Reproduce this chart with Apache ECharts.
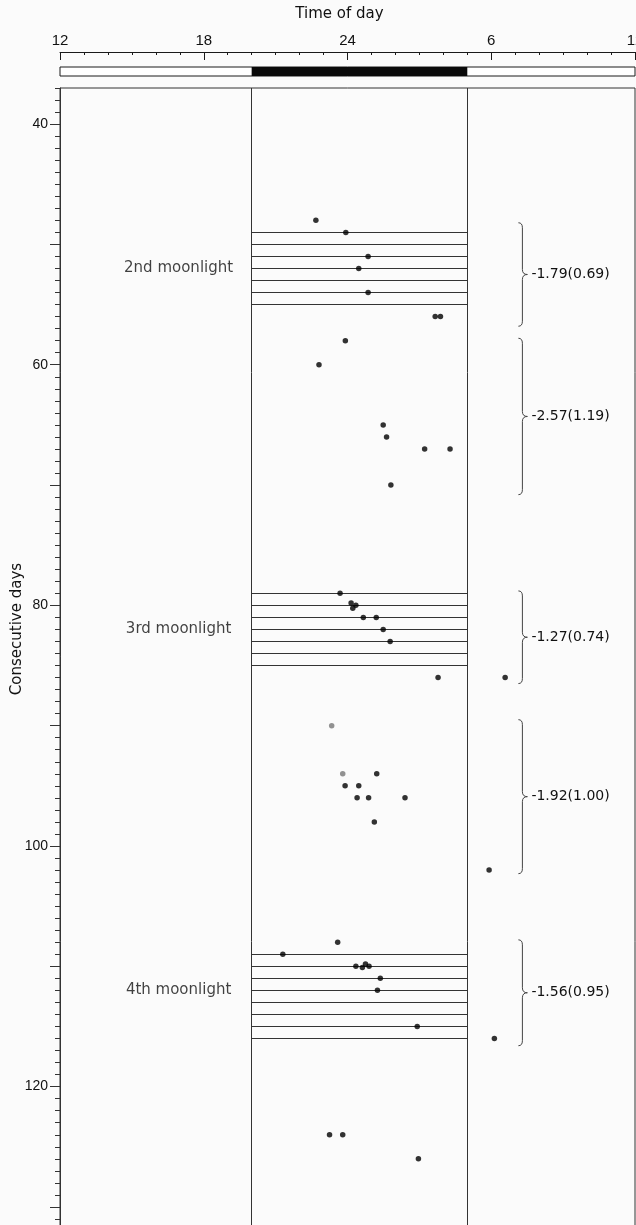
<!DOCTYPE html>
<html>
<head>
<meta charset="utf-8">
<script src="https://cdn.jsdelivr.net/npm/echarts@6.0.0/dist/echarts.min.js"></script>
<style>
  html, body { margin: 0; padding: 0; background: #fbfbfb; }
  #chart { width: 636px; height: 1225px; }
</style>
</head>
<body>
<div id="chart"></div>
<script>
// time of day in hours, 24+ means after midnight
const nightStart = 20
const nightEnd = 29

// onset of activity: hour and day
const onsetHour = [
  22.68, 23.93, 24.86, 24.47, 24.86, 27.66, 27.88,
  23.91, 22.81, 25.49, 25.63, 27.22, 28.28, 25.81,
  23.69, 24.15, 24.35, 24.22, 24.66, 25.2, 25.49, 25.78, 27.78, 30.58,
  25.22, 23.9, 24.47, 24.4, 24.88, 26.4, 25.12, 29.91,
  23.59, 21.3, 24.35, 24.62, 24.75, 24.9, 25.37, 25.25, 26.91, 30.13,
  23.25, 23.8, 26.96
]
const onsetDay = [
  48, 49, 51, 52, 54, 56, 56,
  58, 60, 65, 66, 67, 67, 70,
  79, 79.8, 80, 80.25, 81, 81, 82, 83, 86, 86,
  94, 95, 95, 96, 96, 96, 98, 102,
  108, 109, 110, 110.1, 109.8, 110, 111, 112, 115, 116,
  124, 124, 126
]
// fainter points
const faintHour = [23.34, 23.8]
const faintDay = [90, 94]

// moonlight periods (first and last night)
const moonName = ['2nd moonlight', '3rd moonlight', '4th moonlight']
const moonFirst = [49, 79, 109]
const moonLast = [55, 85, 116]
const moonLabelDay = [52, 82, 112]

// brackets on the right with slope (s.e.)
const bracketFrom = [48.2, 57.8, 78.8, 89.5, 107.8]
const bracketTo = [56.8, 70.8, 86.5, 102.3, 116.6]
const bracketText = ['-1.79(0.69)', '-2.57(1.19)', '-1.27(0.74)', '-1.92(1.00)', '-1.56(0.95)']

const dayMajor = [40, 50, 60, 70, 80, 90, 100, 110, 120, 130]
const dayLabels = [40, 60, 80, 100, 120]

const ink = '#1a1a1a'
const font = 'Liberation Sans'
const wide = 'DejaVu Sans'

const dots = onsetHour.map((h, i) => [h, onsetDay[i]])
const faint = faintHour.map((h, i) => [h, faintDay[i]])

let moonLines = []
for (let k = 0; k < moonFirst.length; k++) {
  for (let d = moonFirst[k]; d <= moonLast[k]; d++) {
    moonLines.push([{ coord: [nightStart, d] }, { coord: [nightEnd, d] }])
  }
}

const noBounds = { outerBoundsMode: 'none', containLabel: false }

const chart = echarts.init(document.getElementById('chart'))
chart.setOption({
  backgroundColor: '#fbfbfb',
  animation: false,
  grid: [
    // time scale
    Object.assign({ left: 60, width: 575, top: 52, height: 15, show: false }, noBounds),
    // light / dark bar
    Object.assign({ left: 60, width: 575, top: 67, height: 9, show: true, borderColor: ink, borderWidth: 1, backgroundColor: '#fff' }, noBounds),
    // main panel
    Object.assign({ left: 60, width: 575, top: 88, bottom: -3, show: true, borderColor: '#333', borderWidth: 1 }, noBounds),
  ],
  xAxis: [
    {
      gridIndex: 0,
      type: 'value',
      position: 'top',
      min: 12,
      max: 36,
      interval: 6,
      axisLine: { show: true, onZero: false, lineStyle: { color: ink } },
      axisTick: { show: true, inside: true, length: 8, lineStyle: { color: ink } },
      minorTick: { show: true, splitNumber: 6, length: 3, lineStyle: { color: ink } },
      splitLine: { show: false },
      axisLabel: {
        margin: 4,
        color: '#111',
        fontSize: 15,
        fontFamily: font,
        formatter: (v) => (v > 24 ? v - 24 : v) + '',
      },
      name: 'Time of day',
      nameLocation: 'middle',
      nameGap: 30,
      nameTextStyle: { color: '#111', fontSize: 15, fontFamily: wide, padding: [0, 16, 0, 0] },
    },
    { gridIndex: 1, type: 'value', min: 12, max: 36, show: false },
    { gridIndex: 2, type: 'value', min: 12, max: 36, show: false },
  ],
  yAxis: [
    { gridIndex: 0, type: 'value', min: 0, max: 1, show: false },
    { gridIndex: 1, type: 'value', min: 0, max: 1, show: false },
    {
      gridIndex: 2,
      type: 'value',
      position: 'left',
      inverse: true,
      min: 37,
      max: 131.75,
      axisLine: { show: true, onZero: false, lineStyle: { color: '#333' } },
      axisTick: { show: true, length: 10, customValues: dayMajor, lineStyle: { color: '#333' } },
      axisLabel: { customValues: dayLabels, margin: 12, color: '#111', fontSize: 14, fontFamily: font },
      splitLine: { show: false },
    },
    {
      gridIndex: 2,
      type: 'value',
      position: 'left',
      inverse: true,
      min: 37,
      max: 131.75,
      interval: 1,
      axisLine: { show: false, onZero: false },
      axisTick: { show: true, length: 5, lineStyle: { color: '#333' } },
      axisLabel: { show: false },
      splitLine: { show: false },
    },
  ],
  graphic: [
    {
      type: 'text',
      x: 17,
      y: 629,
      rotation: Math.PI / 2,
      style: { text: 'Consecutive days', fill: '#111', font: '15px ' + wide, align: 'center', verticalAlign: 'middle' },
    },
  ],
  series: [
    {
      // night bar
      type: 'custom',
      xAxisIndex: 1,
      yAxisIndex: 1,
      data: [[nightStart, nightEnd]],
      renderItem: (params, api) => {
        const a = api.coord([api.value(0), 1])
        const b = api.coord([api.value(1), 0])
        return {
          type: 'rect',
          shape: { x: a[0], y: a[1], width: b[0] - a[0], height: b[1] - a[1] },
          style: { fill: '#0a0a0a' },
        }
      },
    },
    {
      type: 'scatter',
      xAxisIndex: 2,
      yAxisIndex: 2,
      symbolSize: 5.5,
      itemStyle: { color: '#000' },
      data: dots,
      z: 5,
      markLine: {
        silent: true,
        symbol: 'none',
        label: { show: false },
        lineStyle: { color: '#333', width: 1, type: 'solid' },
        data: [{ xAxis: nightStart }, { xAxis: nightEnd }].concat(moonLines),
      },
    },
    {
      type: 'scatter',
      xAxisIndex: 2,
      yAxisIndex: 2,
      symbolSize: 5.5,
      itemStyle: { color: '#777' },
      data: faint,
      z: 5,
    },
    {
      // moonlight names
      type: 'scatter',
      xAxisIndex: 2,
      yAxisIndex: 2,
      symbolSize: 0,
      data: moonName.map((n, i) => ({ name: n, value: [16.95, moonLabelDay[i]] })),
      label: { show: true, position: 'inside', formatter: '{b}', color: '#111', fontSize: 15, fontFamily: wide },
    },
    {
      // brackets
      type: 'custom',
      xAxisIndex: 2,
      yAxisIndex: 2,
      data: bracketFrom.map((f, i) => [f, bracketTo[i], i]),
      renderItem: (params, api) => {
        const x = api.coord([31.3, 0])[0]
        const yT = api.coord([31.3, api.value(0)])[1]
        const yB = api.coord([31.3, api.value(1)])[1]
        const yM = (yT + yB) / 2
        const r = 5
        const st = { stroke: '#444', lineWidth: 1, fill: null }
        return {
          type: 'group',
          children: [
            { type: 'bezierCurve', shape: { x1: x - 4, y1: yT, cpx1: x, cpy1: yT, x2: x, y2: yT + r }, style: st },
            { type: 'line', shape: { x1: x, y1: yT + r, x2: x, y2: yM - r }, style: st },
            { type: 'bezierCurve', shape: { x1: x, y1: yM - r, cpx1: x, cpy1: yM, x2: x + r, y2: yM }, style: st },
            { type: 'bezierCurve', shape: { x1: x + r, y1: yM, cpx1: x, cpy1: yM, x2: x, y2: yM + r }, style: st },
            { type: 'line', shape: { x1: x, y1: yM + r, x2: x, y2: yB - r }, style: st },
            { type: 'bezierCurve', shape: { x1: x, y1: yB - r, cpx1: x, cpy1: yB, x2: x - 4, y2: yB }, style: st },
            {
              type: 'text',
              x: x + 9,
              y: yM,
              style: {
                text: bracketText[api.value(2)],
                fill: '#111',
                font: '14px ' + wide,
                align: 'left',
                verticalAlign: 'middle',
              },
            },
          ],
        }
      },
    },
  ],
})
</script>
</body>
</html>
